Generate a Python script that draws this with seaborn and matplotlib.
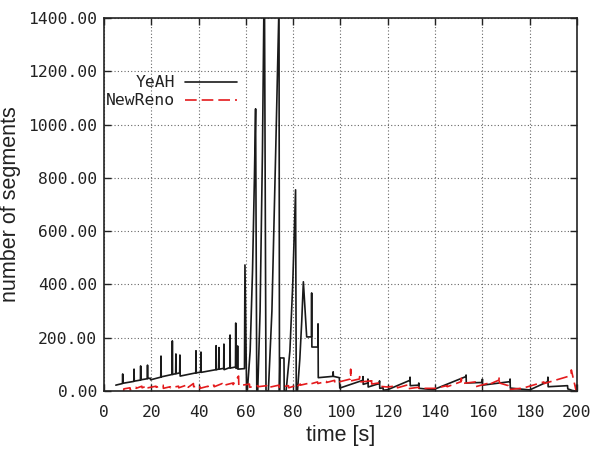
import numpy as np
import pandas as pd
import matplotlib
matplotlib.use("Agg")
import matplotlib.pyplot as plt
import seaborn as sns

# YeAH congestion window (time [s], segments)
yeah_t = [5.0, 7.8, 7.9, 8.0, 12.6, 12.7, 12.8, 15.4, 15.5, 15.6, 18.3, 18.4, 18.5,
          19.6, 19.7, 24.0, 24.1, 24.2, 28.8, 28.9, 29.0, 30.3, 30.4, 30.5,
          32.0, 32.1, 32.2, 38.8, 38.9, 39.0, 40.9, 41.0, 41.1, 47.3, 47.4, 47.5,
          48.5, 48.6, 48.7, 50.6, 50.7, 50.8, 53.2, 53.3, 53.4, 55.6, 55.7, 55.8,
          56.4, 56.5, 56.6, 59.4, 59.6, 60.3,
          60.6, 61.8, 62.8, 63.6, 64.1, 64.6,
          65.0, 66.0, 67.0, 67.8, 68.5,
          69.5, 71.0, 72.6, 74.0, 74.2, 74.4, 76.1, 76.2,
          77.0, 78.6, 79.8, 81.0, 81.3,
          81.8, 82.8, 83.6, 84.3, 85.7, 87.7, 87.8, 87.9, 90.4, 90.5, 90.6,
          96.8, 96.9, 97.0, 99.5, 99.7,
          109.4, 109.5, 109.6, 111.5, 111.6, 111.7, 116.4, 116.5, 116.6, 118.0, 118.1, 120.0,
          129.3, 129.4, 129.5, 133.0, 133.1, 133.2, 139.3,
          153.0, 153.1, 153.2, 159.9, 160.0, 160.1,
          171.6, 171.7, 171.8, 180.0,
          187.6, 187.7, 187.8, 196.0, 196.1, 198.0, 199.5, 199.7, 200.0]
yeah_v = [22, 28, 64, 29, 36, 82, 37, 41, 94, 42, 46, 97, 47,
          48, 42, 52, 131, 53, 62, 188, 62, 65, 139, 65,
          68, 135, 56, 68, 151, 68, 71, 146, 70, 80, 170, 80,
          82, 163, 82, 85, 176, 80, 88, 210, 86, 90, 255, 85,
          86, 169, 82, 84, 473, 0,
          0, 150, 450, 800, 1059, 0,
          0, 300, 900, 1600, 0,
          0, 300, 900, 1450, 0, 124, 124, 0,
          0, 150, 400, 755, 0,
          0, 120, 260, 410, 203, 203, 368, 165, 165, 252, 50,
          55, 72, 55, 50, 11,
          40, 54, 25, 30, 45, 15, 28, 38, 10, 12, 3, 5,
          40, 52, 20, 22, 30, 10, 5,
          54, 60, 30, 32, 45, 22,
          35, 45, 11, 4,
          35, 52, 16, 20, 8, 2, 0, 22, 20]

# NewReno congestion window (time [s], segments)
newreno_t = [8.3, 8.4, 11.0, 11.1, 13.5, 13.6, 16.0, 16.1, 18.5, 18.6, 22.0, 22.1,
             25.0, 25.1, 28.0, 28.1, 31.5, 31.6, 35.5, 35.6,
             37.8, 37.9, 40.5, 40.6, 44.0, 44.1, 46.5, 46.6, 50.0, 50.1, 54.5, 54.6,
             56.9, 57.0, 61.5, 61.6, 65.0, 65.1,
             68.8, 68.9, 74.0, 74.1, 78.0, 78.1, 81.0, 81.1, 83.0, 83.1, 87.0, 87.1,
             90.3, 90.4, 94.0, 94.1, 97.5, 97.6,
             104.2, 104.3, 104.4, 108.0, 108.1, 108.2, 113.0, 113.1, 113.2, 116.0, 116.1,
             120.0, 124.0, 124.1, 128.0, 128.1, 133.0, 133.1, 140.0, 145.0, 145.1,
             151.0, 151.1, 151.2, 157.0, 157.1, 162.0, 162.1, 167.0, 167.1,
             167.2, 171.0, 171.1, 176.0, 176.1, 186.0, 186.1, 196.0, 197.5, 197.6,
             199.6, 200.0]
newreno_v = [0, 8, 12, 4, 14, 10, 18, 12, 20, 12, 18, 14,
             22, 10, 16, 12, 18, 12, 24, 14,
             28, 16, 20, 10, 18, 14, 22, 16, 28, 20, 30, 24,
             56, 20, 26, 14, 20, 16,
             20, 12, 22, 14, 20, 12, 20, 14, 26, 22, 30, 26,
             34, 28, 36, 32, 40, 30,
             45, 82, 38, 45, 54, 34, 38, 50, 26, 30, 18,
             15, 20, 12, 22, 8, 14, 10, 10, 20, 16,
             35, 48, 28, 34, 16, 28, 22, 41, 54,
             30, 20, 5, 10, 8, 34, 28, 54, 62, 79,
             2, 10]

df_yeah = pd.DataFrame({"t": yeah_t, "v": yeah_v})
df_reno = pd.DataFrame({"t": newreno_t, "v": newreno_v})

sns.set_style("ticks")
mono = "DejaVu Sans Mono"
plt.rcParams["font.family"] = ["Liberation Sans", "DejaVu Sans"]

fig = plt.figure(figsize=(5.95, 4.49), dpi=100)
ax = fig.add_axes([104 / 595, 1 - 391 / 449, 473 / 595, 373 / 449])

sns.lineplot(data=df_yeah, x="t", y="v", ax=ax, sort=False, estimator=None,
             color="#1a1a1a", lw=1.2, label="YeAH")
sns.lineplot(data=df_reno, x="t", y="v", ax=ax, sort=False, estimator=None,
             color="#e41a1c", lw=1.2, dashes=False, label="NewReno")
ax.lines[1].set_dashes([7, 3])

ax.set_xlim(0, 200)
ax.set_ylim(0, 1400)
ax.set_xticks(np.arange(0, 201, 20))
ax.set_yticks(np.arange(0, 1401, 200))
ax.set_yticklabels([f"{y:.2f}" for y in np.arange(0, 1401, 200)])
ax.grid(True, color="#666666", linestyle=(0, (1, 2)), linewidth=0.8)
ax.tick_params(direction="in", length=5, width=1, top=True, right=True,
               labelsize=11.8, color="#222222")
ax.tick_params(axis="x", pad=10)
ax.tick_params(axis="y", pad=5)
for lab in ax.get_xticklabels() + ax.get_yticklabels():
    lab.set_family(mono)
    lab.set_color("#222222")
for sp in ax.spines.values():
    sp.set_visible(True)
    sp.set_linewidth(1.2)
    sp.set_color("#222222")

ax.set_xlabel("time [s]", fontsize=15.5, color="#222222", labelpad=4)
ax.set_ylabel("number of segments", fontsize=15.5, color="#222222")
ax.yaxis.set_label_coords(-0.176, 0.5)

leg = ax.legend(loc="upper left", bbox_to_anchor=(0.004, 0.846), frameon=False,
                markerfirst=False, borderaxespad=0, borderpad=0,
                handlelength=3.2, handletextpad=0.6, labelspacing=0.18,
                prop={"family": mono, "size": 11.8})
for txt in leg.get_texts():
    txt.set_color("#222222")

fig.savefig("out.png", dpi=100)
